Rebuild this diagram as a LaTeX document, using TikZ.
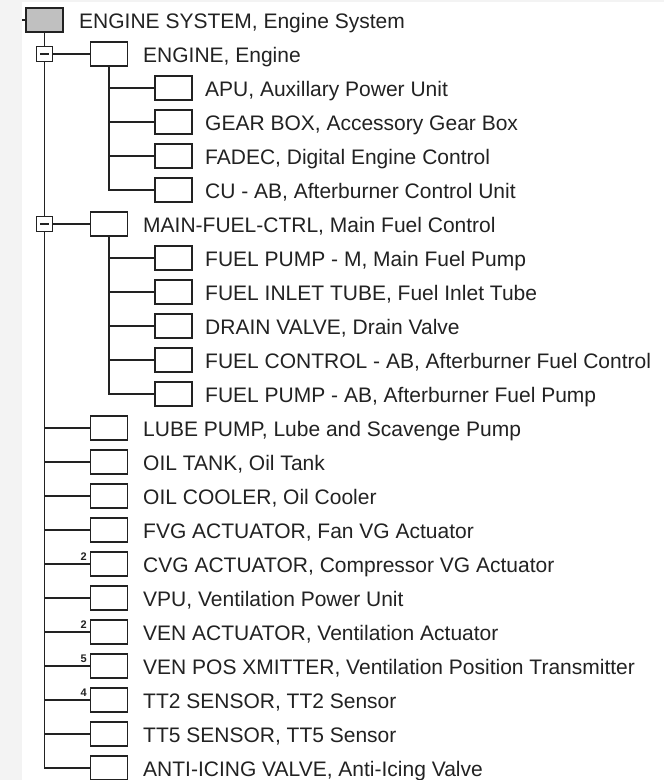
\documentclass[tikz,border=0pt]{standalone}
\usepackage{fontspec}
\setmainfont{Liberation Sans}
\usetikzlibrary{calc}
\definecolor{ln}{HTML}{222222}
\definecolor{rootfill}{HTML}{C0C0C0}
\definecolor{strip}{HTML}{F3F3F3}
\begin{document}
\begin{tikzpicture}[x=1pt,y=-1pt,
  treebox/.style={draw=ln,line width=1.8pt,fill=white,minimum width=37pt,minimum height=24pt,inner sep=0pt,outer sep=0pt},
  rootbox/.style={treebox,fill=rootfill},
  minusbox/.style={draw=ln,line width=1.5pt,fill=white,minimum width=16pt,minimum height=15pt,inner sep=0pt,outer sep=0pt},
  txt/.style={anchor=base west,inner sep=0pt,text=ln,font=\fontsize{21}{25}\selectfont},
  cnt/.style={anchor=base east,inner sep=0pt,text=ln,font=\fontsize{11}{13}\selectfont\bfseries},
  conn/.style={draw=ln,line width=1.8pt}]
\useasboundingbox (0,0) rectangle (664,780);
\fill[white] (0,0) rectangle (664,780);
\fill[strip] (0,0) rectangle (22,780);
\fill[strip] (22,0) rectangle (664,2);
% root
\node[rootbox] (n0) at (44.5,20) {};
\node[txt] (t0) at (79,28) {ENGINE SYSTEM, Engine System};
\coordinate (stub) at (22,20);
\draw[conn] (stub) -- (n0.west);
% level 1 boxes
\foreach \i/\r/\t in {1/1/{ENGINE, Engine},6/6/{MAIN-FUEL-CTRL, Main Fuel Control},
  12/12/{LUBE PUMP, Lube and Scavenge Pump},13/13/{OIL TANK, Oil Tank},
  14/14/{OIL COOLER, Oil Cooler},15/15/{FVG ACTUATOR, Fan VG Actuator},
  16/16/{CVG ACTUATOR, Compressor VG Actuator},17/17/{VPU, Ventilation Power Unit},
  18/18/{VEN ACTUATOR, Ventilation Actuator},19/19/{VEN POS XMITTER, Ventilation Position Transmitter},
  20/20/{TT2 SENSOR, TT2 Sensor},21/21/{TT5 SENSOR, TT5 Sensor},
  22/22/{ANTI-ICING VALVE, Anti-Icing Valve}}{
  \node[treebox] (n\i) at (109,20+34*\r) {};
  \node[txt] (t\i) at (143,28+34*\r) {\t};
  \coordinate (j\i) at (44.5,20+34*\r);
}
% level 2 boxes
\foreach \i/\t in {2/{APU, Auxillary Power Unit},3/{GEAR BOX, Accessory Gear Box},
  4/{FADEC, Digital Engine Control},5/{CU - AB, Afterburner Control Unit},
  7/{FUEL PUMP - M, Main Fuel Pump},8/{FUEL INLET TUBE, Fuel Inlet Tube},
  9/{DRAIN VALVE, Drain Valve},10/{FUEL CONTROL - AB, Afterburner Fuel Control},
  11/{FUEL PUMP - AB, Afterburner Fuel Pump}}{
  \node[treebox] (n\i) at (173.5,20+34*\i) {};
  \node[txt] (t\i) at (205,28+34*\i) {\t};
}
% trunk
\draw[conn] (n0.south) |- (n22.west);
% level-1 connectors
\foreach \i in {12,13,14,15,16,17,18,19,20,21}{
  \draw[conn] (j\i) -- (n\i.west);
}
% expanders
\node[minusbox] (m1) at (j1) {};
\node[minusbox] (m6) at (j6) {};
\draw[conn] (m1.east) -- (n1.west);
\draw[conn] (m6.east) -- (n6.west);
\draw[ln,line width=1.5pt] ($(m1.center)+(-4.5,0)$) -- ($(m1.center)+(4.5,0)$);
\draw[ln,line width=1.5pt] ($(m6.center)+(-4.5,0)$) -- ($(m6.center)+(4.5,0)$);
% level-2 connectors
\draw[conn] (n1.south) |- (n5.west);
\foreach \i in {2,3,4}{ \draw[conn] (n1.south |- n\i.west) -- (n\i.west); }
\draw[conn] (n6.south) |- (n11.west);
\foreach \i in {7,8,9,10}{ \draw[conn] (n6.south |- n\i.west) -- (n\i.west); }
% counts
\node[cnt] (c16) at (87,560) {2};
\node[cnt] (c18) at (87,628) {2};
\node[cnt] (c19) at (87,662) {5};
\node[cnt] (c20) at (87,696) {4};
\end{tikzpicture}
\end{document}
